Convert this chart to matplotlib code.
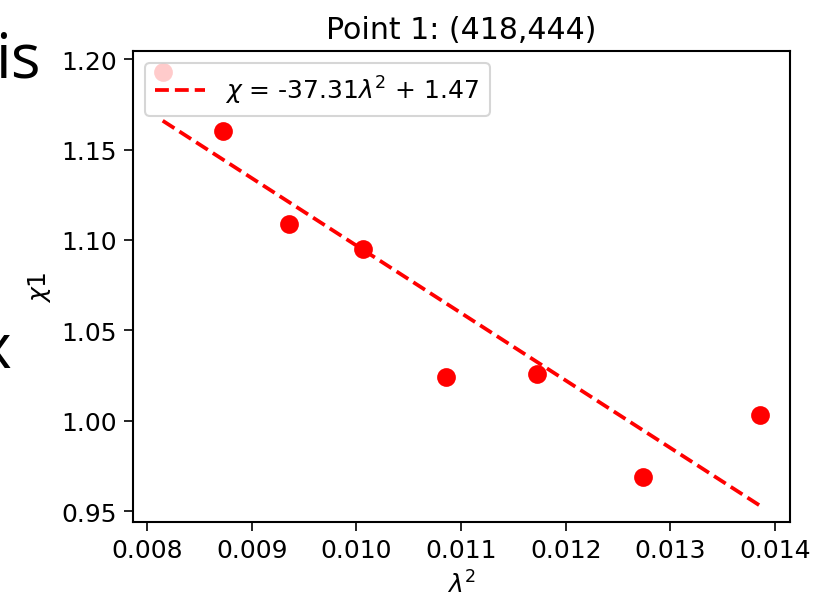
import matplotlib
matplotlib.use("Agg")
import matplotlib.pyplot as plt
import numpy as np

# lambda^2 and chi values
lam_sq = np.array([0.00815, 0.00873, 0.00936, 0.01006, 0.01086, 0.01173, 0.01274, 0.01386])
chi = np.array([1.193, 1.160, 1.109, 1.095, 1.024, 1.026, 0.969, 1.003])

slope = -37.31
intercept = 1.47
title = "Point 1: (418,444)"

plt.rcParams["font.size"] = 12
plt.rcParams["axes.linewidth"] = 1.0
plt.rcParams["xtick.major.size"] = 4.2
plt.rcParams["ytick.major.size"] = 4.2

fig = plt.figure(figsize=(823 / 150, 603 / 150), dpi=150)
ax = fig.add_axes([0.1616, 0.1327, 0.7983, 0.7811])

ax.scatter(lam_sq, chi, color="red", s=64, zorder=2)
x_fit = np.array([lam_sq.min(), lam_sq.max()])
ax.plot(x_fit, slope * x_fit + intercept, "r--", linewidth=1.8,
        label=rf"$\chi$ = {slope:.2f}$\lambda^2$ + {intercept:.2f}")

ax.set_xlim(0.007866, 0.014143)
ax.set_ylim(0.944, 1.2045)
ax.set_xlabel(r"$\lambda^2$")
ax.set_ylabel(r"$\chi$1")
ax.set_title(title)
ax.legend(loc="upper left")

# pieces of the slide text behind the chart
fig.text(-0.006, 0.872, "is", fontsize=30, family="Open Sans", color="black")
fig.text(-0.026, 0.39, "x", fontsize=30, family="Open Sans", color="black")

fig.savefig("out.png", dpi=150)
